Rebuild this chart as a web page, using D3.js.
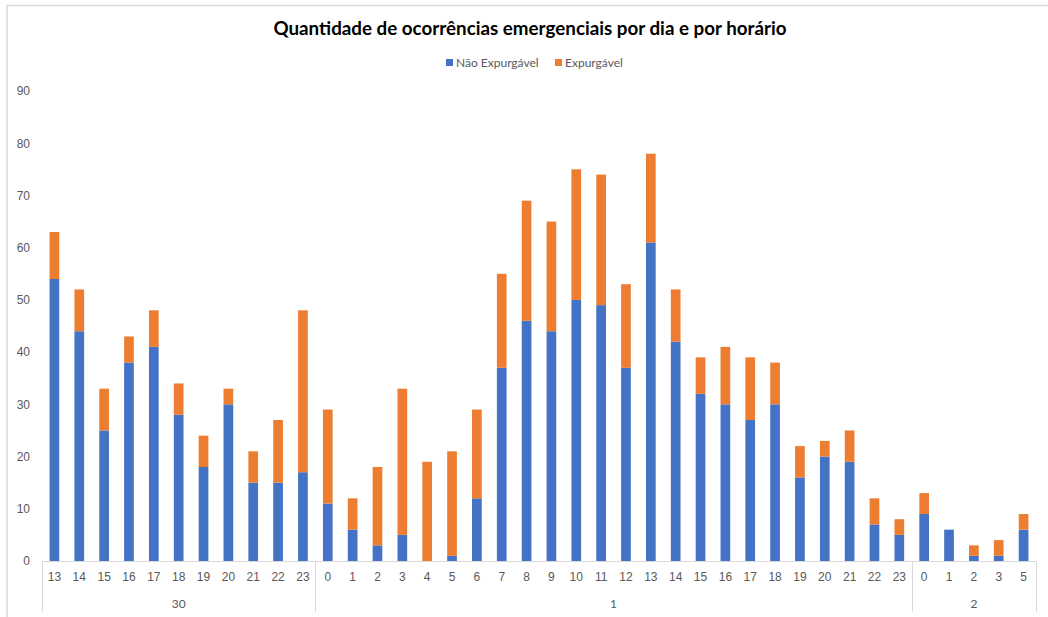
<!DOCTYPE html>
<html>
<head>
<meta charset="utf-8">
<script src="https://cdn.jsdelivr.net/npm/d3@7"></script>
<style>
  body { margin: 0; background: #fff; }
  svg { display: block; font-family: Lato, "Open Sans", sans-serif; }
</style>
</head>
<body>
<svg id="chart" width="1048" height="617"></svg>
<script>
const days = ["30", "1", "2"];
const hours30 = ["13","14","15","16","17","18","19","20","21","22","23"];
const hours1 = ["0","1","2","3","4","5","6","7","8","9","10","11","12","13","14","15","16","17","18","19","20","21","22","23"];
const hours2 = ["0","1","2","3","5"];
const naoExpurgavel30 = [54,44,25,38,41,28,18,30,15,15,17];
const expurgavel30    = [9,8,8,5,7,6,6,3,6,12,31];
const naoExpurgavel1 = [11,6,3,5,0,1,12,37,46,44,50,49,37,61,42,32,30,27,30,16,20,19,7,5];
const expurgavel1    = [18,6,15,28,19,20,17,18,23,21,25,25,16,17,10,7,11,12,8,6,3,6,5,3];
const naoExpurgavel2 = [9,6,1,1,6];
const expurgavel2    = [4,0,2,3,3];
const yTicks = [0,10,20,30,40,50,60,70,80,90];
const seriesNames = ["Não Expurgável", "Expurgável"];
const colors = ["#4472C4", "#ED7D31"];
const chartTitle = "Quantidade de ocorrências emergenciais por dia e por horário";

(function () {
const groups = [
  {day: days[0], hours: hours30, a: naoExpurgavel30, b: expurgavel30},
  {day: days[1], hours: hours1, a: naoExpurgavel1, b: expurgavel1},
  {day: days[2], hours: hours2, a: naoExpurgavel2, b: expurgavel2}
];
const rows = [];
groups.forEach(g => g.hours.forEach((h, i) => rows.push({key: g.day + "-" + h, day: g.day, hour: h, nao: g.a[i], exp: g.b[i]})));

const svg = d3.select("#chart");
const W = 1048, H = 617;
const pLeft = 42, pRight = 1036, pTop = 91, pBottom = 561;

// outer border
svg.append("rect").attr("x", 7).attr("y", 5.5).attr("width", W + 10).attr("height", H + 10)
  .attr("fill", "#fff").attr("stroke", "#d9d9d9").attr("stroke-width", 1.5);

const x = d3.scaleBand().domain(rows.map(r => r.key)).range([pLeft, pRight]).paddingInner(0.61).paddingOuter(0.305);
const y = d3.scaleLinear().domain([0, 90]).range([pBottom, pTop]);

// y axis labels
const yAxis = d3.axisLeft(y).tickValues(yTicks).tickSize(0).tickPadding(0);
const yg = svg.append("g").attr("transform", "translate(30,0)").call(yAxis);
yg.select(".domain").remove();
yg.selectAll("text").attr("fill", "#595959").attr("font-size", 12);

// stacked bars
const stack = d3.stack().keys(["nao", "exp"]);
const stacked = stack(rows);
svg.append("g").selectAll("g").data(stacked).join("g")
  .attr("fill", (d, i) => colors[i])
  .selectAll("rect").data(d => d).join("rect")
  .attr("x", d => x(d.data.key))
  .attr("width", x.bandwidth())
  .attr("y", d => y(d[1]))
  .attr("height", d => y(d[0]) - y(d[1]));

// category axis
const ax = svg.append("g").attr("stroke", "#d9d9d9").attr("stroke-width", 1);
ax.append("line").attr("x1", pLeft).attr("x2", pRight).attr("y1", pBottom + 0.5).attr("y2", pBottom + 0.5);
const step = x.step();
const bounds = [pLeft];
let acc = 0;
groups.forEach(g => { acc += g.hours.length; bounds.push(pLeft + acc * step); });
bounds.forEach(b => ax.append("line").attr("x1", Math.round(b) + 0.5).attr("x2", Math.round(b) + 0.5).attr("y1", pBottom).attr("y2", 612));

// hour labels
const xAxis = d3.axisBottom(x).tickFormat(k => k.split("-")[1]).tickSize(0).tickPadding(11);
const xg = svg.append("g").attr("transform", `translate(0,${pBottom})`).call(xAxis);
xg.select(".domain").remove();
xg.selectAll("text").attr("fill", "#595959").attr("font-size", 12);

// day labels
groups.forEach((g, i) => {
  const x0 = bounds[i], x1 = bounds[i + 1];
  svg.append("text").attr("x", (x0 + x1) / 2).attr("y", 608).attr("text-anchor", "middle")
    .attr("fill", "#595959").attr("font-size", 12).text(g.day);
});

// title
svg.append("text").attr("x", 530).attr("y", 35).attr("text-anchor", "middle")
  .attr("font-size", 18.8).attr("font-weight", "bold").attr("fill", "#000").text(chartTitle);

// legend
const legend = svg.append("g").attr("font-size", 12).attr("fill", "#595959");
const legX = [446, 555];
seriesNames.forEach((n, i) => {
  legend.append("rect").attr("x", legX[i]).attr("y", 59).attr("width", 7).attr("height", 7).attr("fill", colors[i]);
  legend.append("text").attr("x", legX[i] + 10).attr("y", 67).text(n);
});
})();
</script>
</body>
</html>
